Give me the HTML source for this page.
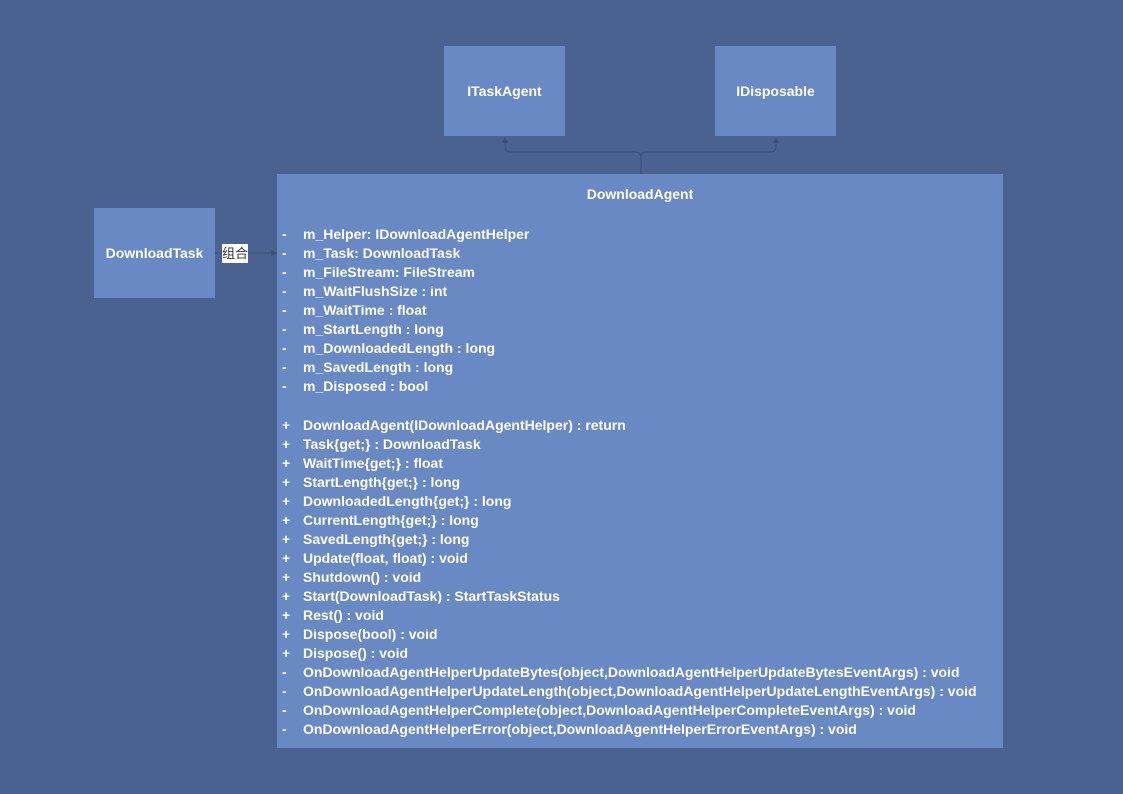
<!DOCTYPE html>
<html><head><meta charset="utf-8"><style>
body{margin:0;width:1123px;height:794px;background:#4a6290;position:relative;overflow:hidden;font-family:"Liberation Sans","Noto Sans CJK SC",sans-serif;color:#fff;font-weight:bold;font-size:14px}
.b{position:absolute;background:#6889c4;box-sizing:border-box}
.c{display:flex;align-items:center;justify-content:center}
.l{position:absolute;left:282px;white-space:nowrap;line-height:19px}
.l span{position:absolute;left:21px}
</style></head><body>
<svg width="1123" height="794" style="position:absolute;left:0;top:0">
<g stroke="#3a5078" fill="none" stroke-width="1">
<path d="M641 174 V158 Q641 152 635 152 H511 Q505 152 505 146 V138"/>
<path d="M641 158 Q641 152 647 152 H770 Q776 152 776 146 V138"/>
<path d="M214 253 H276"/>
</g>
<g fill="#3a5078"><path d="M505 137 l-3 6 h6z"/><path d="M776 137 l-3 6 h6z"/><path d="M277 253 l-6 -3 v6z"/></g>
</svg>
<div class="b c" style="left:444px;top:46px;width:121px;height:90px">ITaskAgent</div>
<div class="b c" style="left:715px;top:46px;width:121px;height:90px">IDisposable</div>
<div class="b c" style="left:94px;top:208px;width:121px;height:90px">DownloadTask</div>
<div style="position:absolute;left:222px;top:244px;width:26px;height:19px;background:#fff;color:#333;font-weight:normal;font-size:13px;line-height:19px;text-align:center">组合</div>
<div class="b" style="left:277px;top:174px;width:726px;height:574px">
<div style="position:absolute;left:0;right:0;top:12px;text-align:center">DownloadAgent</div>
</div>
<div class="l" style="top:225px">-<span>m_Helper: IDownloadAgentHelper</span></div>
<div class="l" style="top:244px">-<span>m_Task: DownloadTask</span></div>
<div class="l" style="top:263px">-<span>m_FileStream: FileStream</span></div>
<div class="l" style="top:282px">-<span>m_WaitFlushSize : int</span></div>
<div class="l" style="top:301px">-<span>m_WaitTime : float</span></div>
<div class="l" style="top:320px">-<span>m_StartLength : long</span></div>
<div class="l" style="top:339px">-<span>m_DownloadedLength : long</span></div>
<div class="l" style="top:358px">-<span>m_SavedLength : long</span></div>
<div class="l" style="top:377px">-<span>m_Disposed : bool</span></div>
<div class="l" style="top:416px">+<span>DownloadAgent(IDownloadAgentHelper) : return</span></div>
<div class="l" style="top:435px">+<span>Task{get;} : DownloadTask</span></div>
<div class="l" style="top:454px">+<span>WaitTime{get;} : float</span></div>
<div class="l" style="top:473px">+<span>StartLength{get;} : long</span></div>
<div class="l" style="top:492px">+<span>DownloadedLength{get;} : long</span></div>
<div class="l" style="top:511px">+<span>CurrentLength{get;} : long</span></div>
<div class="l" style="top:530px">+<span>SavedLength{get;} : long</span></div>
<div class="l" style="top:549px">+<span>Update(float, float) : void</span></div>
<div class="l" style="top:568px">+<span>Shutdown() : void</span></div>
<div class="l" style="top:587px">+<span>Start(DownloadTask) : StartTaskStatus</span></div>
<div class="l" style="top:606px">+<span>Rest() : void</span></div>
<div class="l" style="top:625px">+<span>Dispose(bool) : void</span></div>
<div class="l" style="top:644px">+<span>Dispose() : void</span></div>
<div class="l" style="top:663px">-<span>OnDownloadAgentHelperUpdateBytes(object,DownloadAgentHelperUpdateBytesEventArgs) : void</span></div>
<div class="l" style="top:682px">-<span>OnDownloadAgentHelperUpdateLength(object,DownloadAgentHelperUpdateLengthEventArgs) : void</span></div>
<div class="l" style="top:701px">-<span>OnDownloadAgentHelperComplete(object,DownloadAgentHelperCompleteEventArgs) : void</span></div>
<div class="l" style="top:720px">-<span>OnDownloadAgentHelperError(object,DownloadAgentHelperErrorEventArgs) : void</span></div>
</body></html>
